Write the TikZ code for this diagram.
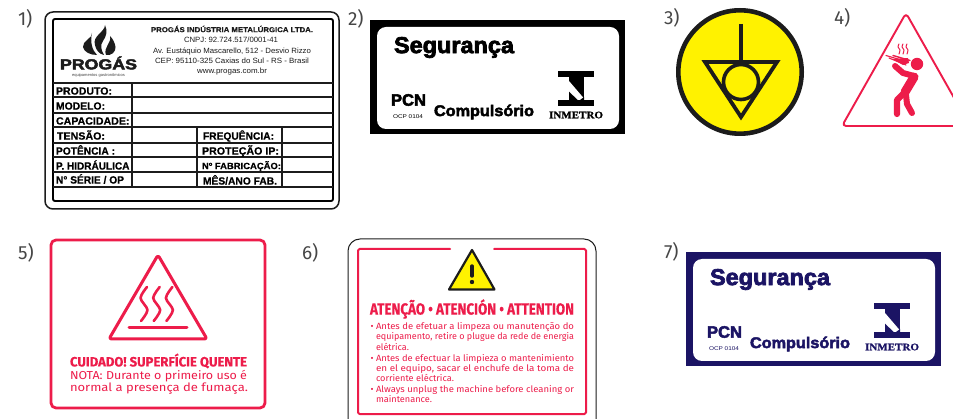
\documentclass[tikz,border=0pt]{standalone}
\usepackage{graphicx}
\usepackage{fontspec}
\setmainfont{Liberation Sans}[BoldFeatures={FakeBold=0.6}]
\newfontfamily\dinfont{Fira Sans}[BoldFeatures={FakeBold=0.3}]
\newfontfamily\numfont{Fira Sans}
\newfontfamily\heavyfont{Liberation Sans}[BoldFeatures={FakeBold=3}]
\newfontfamily\serifb{Liberation Serif}[BoldFeatures={FakeBold=1}]
\definecolor{alertred}{RGB}{237,28,74}
\definecolor{inkblack}{RGB}{28,28,28}
\definecolor{signyellow}{RGB}{255,242,0}
\definecolor{navyink}{RGB}{27,20,100}
\definecolor{numgray}{RGB}{70,70,70}
\newcommand{\fitw}[3]{\resizebox{#1pt}{\height}{\fontsize{#2}{#2}\selectfont #3}}
\newcommand{\tl}[7]{\node[txt,text=#6] (#1) at (#2,#3) {\fitw{#4}{#5}{#7}};}
\newcommand{\numlab}[4]{\node[txt,text=numgray] (#1) at (#2,#3) {\numfont\fontsize{19}{19}\selectfont #4};}
\newcommand{\pcnlabel}[4]{%
  \begin{scope}[shift={(#2,#3)}]
    \fill[#4] (370,20) rectangle (625,134);
    \fill[white,rounded corners=9] (377,27) rectangle (619,129);
    \tl{#1seg}{394}{47.5}{120}{23}{#4}{\heavyfont\bfseries Segurança}
    \tl{#1pcn}{391}{100}{35}{16.5}{#4}{\heavyfont\bfseries PCN}
    \tl{#1ocp}{393}{117}{30}{5.5}{#4}{OCP 0104}
    \tl{#1com}{434}{112}{100}{15.5}{#4}{\heavyfont\bfseries Compulsório}
    \tl{#1inm}{549}{115}{54}{10}{#4}{\serifb\bfseries INMETRO}
    \fill[#4] (558,71) rectangle (594,77);
    \fill[#4] (558,100) rectangle (594,106);
    \fill[#4] (569,77) rectangle (584,100);
    \fill[white] (569,81) -- (584,98.5) -- (584,100) -- (578,100) -- (569,91.5) -- cycle;
    \fill[#4] (584,97) -- (584,100) -- (580,100) -- cycle;
  \end{scope}}
\tikzset{
  x=1pt,y=-1pt,
  txt/.style={inner sep=0pt,outer sep=0pt,anchor=west},
  redline/.style={draw=alertred,line join=round,line cap=round},
  tablerule/.style={draw=inkblack,line width=1.1pt},
}
\begin{document}
\begin{tikzpicture}
\useasboundingbox (0,0) rectangle (953,419);
\begin{scope}
\clip (0,0) rectangle (953,419);
\fill[white] (0,0) rectangle (953,419);
% numbers
\numlab{n1}{18}{19}{1)}
\numlab{n2}{348}{19}{2)}
\numlab{n3}{664}{18}{3)}
\numlab{n4}{834}{18}{4)}
\numlab{n5}{18}{253}{5)}
\numlab{n6}{302}{253}{6)}
\numlab{n7}{664}{252}{7)}
% label 1
\draw[inkblack,line width=1.5pt,rounded corners=8] (45,12) rectangle (339,209);
\draw[black,line width=1.9pt,rounded corners=2] (53,19) rectangle (333,201);
\foreach \yy in {83,97,113,127,143,157,172,187} \draw[tablerule] (53,\yy) -- (333,\yy);
\draw[tablerule] (132,83) -- (132,187);
\draw[tablerule] (197,127) -- (197,187);
\draw[tablerule] (282,127) -- (282,187);
\fill[inkblack] (92,33) .. controls (93,38) and (82,41) .. (83,47) .. controls (84,52) and (90,55) .. (97,55) .. controls (92,50) and (90,42) .. (92,33) -- cycle;
\fill[inkblack] (105,25) .. controls (105,32) and (92,36) .. (95,45) .. controls (96,50) and (99,54) .. (104,55) .. controls (101,50) and (100,45) .. (103,41) .. controls (106,37) and (108,31) .. (105,25) -- cycle;
\fill[inkblack] (110,36) .. controls (112,43) and (103,47) .. (106,55) .. controls (111,56) and (116,52) .. (115.5,47) .. controls (115,43) and (113,39) .. (110,36) -- cycle;
\tl{logo}{60}{63}{77}{14.5}{inkblack}{\heavyfont\bfseries PROGÁS}
\tl{logosub}{72}{75}{53}{4}{numgray}{equipamentos gastronômicos}
\tl{h1}{151}{29}{162}{7.2}{inkblack}{\bfseries PROGÁS INDÚSTRIA METALÚRGICA LTDA.}
\tl{h2}{184}{40}{94}{7.6}{inkblack}{CNPJ: 92.724.517/0001-41}
\tl{h3}{153}{51}{158}{7.6}{inkblack}{Av. Eustáquio Mascarello, 512 - Desvio Rizzo}
\tl{h4}{155}{61}{154}{7.6}{inkblack}{CEP: 95110-325  Caxias do Sul - RS - Brasil}
\tl{h5}{197}{72}{70}{7.6}{inkblack}{www.progas.com.br}
\tl{r1}{56}{91}{56}{10.5}{black}{\bfseries PRODUTO:}
\tl{r2}{56}{106}{49}{10.5}{black}{\bfseries MODELO:}
\tl{r3}{56}{121}{73.5}{10.5}{black}{\bfseries CAPACIDADE:}
\tl{r4}{57}{135}{48}{10.5}{black}{\bfseries TENSÃO:}
\tl{r5}{56}{150}{59}{10.5}{black}{\bfseries POTÊNCIA :}
\tl{r6}{56}{165}{73.5}{10.5}{black}{\bfseries P. HIDRÁULICA}
\tl{r7}{56}{179}{68}{10.5}{black}{\bfseries N° SÉRIE / OP}
\tl{s1}{203}{136}{71}{10.5}{black}{\bfseries FREQUÊNCIA:}
\tl{s2}{202}{151}{77}{10.5}{black}{\bfseries PROTEÇÃO IP:}
\tl{s3}{202}{166}{79}{9}{black}{\bfseries Nº FABRICAÇÃO:}
\tl{s4}{203}{180}{74}{10.5}{black}{\bfseries MÊS/ANO FAB.}
% labels 2 and 7
\pcnlabel{a}{0}{0}{black}
\pcnlabel{b}{316}{232}{navyink}
% sign 3
\draw[inkblack,fill=signyellow,line width=4.6pt] (740,72) circle (61.7);
\draw[inkblack,line width=3.8pt,line join=miter] (705,62) -- (777,62) -- (741,117) -- cycle;
\draw[inkblack,line width=3.3pt] (741,24) -- (741,62);
\draw[inkblack,fill=signyellow,line width=3.6pt] (741,82) circle (17.5);
% sign 4
\draw[redline,line width=1.9pt,rounded corners=4] (906,13) -- (970,126) -- (842,126) -- cycle;
\fill[alertred] (917,64) circle (6.2);
\draw[redline,line width=9pt] (914,77) -- (905,92);
\draw[redline,line width=6pt] (914,76) -- (903,73) -- (895,66);
\draw[redline,line width=6.2pt] (904,93) -- (897,100) -- (897,114);
\draw[redline,line width=6pt] (906,95) -- (907,104) -- (912,113);
\draw[redline,line width=1.1pt] (886,55.5) -- (908,62);
\draw[redline,line width=1.1pt] (889,58) -- (906,65);
\draw[redline,line width=1.4pt] (893,55.5) -- (910,60.5);
\fill[alertred] (892,59) -- (908,58) -- (909,63) -- (903,65) -- cycle;
\foreach \dx in {0,4,8} \draw[redline,line width=1pt,shift={(\dx,0)}] plot[smooth] coordinates {(899,44) (898,47) (900,50) (899,54)};
% sign 5
\draw[redline,line width=2.8pt,rounded corners=5] (51,240) rectangle (265,408);
\draw[redline,line width=3pt,rounded corners=2.5] (158,255) -- (207,339) -- (109,339) -- cycle;
\draw[redline,line width=3pt] (129,328) -- (187,328);
\foreach \dx in {0,12.7,25.4} \draw[redline,line width=2.6pt,shift={(\dx,0)}] plot[smooth] coordinates {(147,287) (140.5,298) (147.5,310) (141,321)};
\tl{c1}{70}{361}{177}{13.5}{alertred}{\dinfont\bfseries CUIDADO! SUPERFÍCIE QUENTE}
\tl{c2}{70}{376.5}{177}{11.5}{alertred}{\dinfont NOTA: Durante o primeiro uso é}
\tl{c3}{70}{388.5}{178}{11.5}{alertred}{\dinfont normal a presença de fumaça.}
% sign 6
\draw[inkblack,line width=1pt,rounded corners=12] (348,430) -- (348,239) -- (596,239) -- (596,430);
\draw[redline,line width=2pt,rounded corners=1.5] (450,249) -- (358,249) -- (358,414) -- (586,414) -- (586,249) -- (494,249);
\draw[inkblack,fill=signyellow,line width=2.2pt,line join=round] (472,250) -- (494.5,289.5) -- (449,289.5) -- cycle;
\draw[inkblack,line width=3.4pt,line cap=round] (472,266) -- (472,276);
\fill[inkblack] (472,282) circle (2.2);
\tl{d0}{370}{309}{204}{16}{alertred}{\dinfont\bfseries ATENÇÃO • ATENCIÓN • ATTENTION}
\tl{db1}{370.5}{327}{3}{9}{alertred}{\dinfont •}
\tl{d1}{376}{327}{198}{9}{alertred}{\dinfont Antes de efetuar a limpeza ou manutenção do}
\tl{d2}{376}{337}{198}{9}{alertred}{\dinfont equipamento, retire o plugue da rede de energia}
\tl{d3}{376}{346.5}{33}{9}{alertred}{\dinfont elétrica.}
\tl{db2}{370.5}{359}{3}{9}{alertred}{\dinfont •}
\tl{d4}{376}{359}{198}{9}{alertred}{\dinfont Antes de efectuar la limpieza o mantenimiento}
\tl{d5}{376}{368.5}{198}{9}{alertred}{\dinfont en el equipo, sacar el enchufe de la toma de}
\tl{d6}{376}{378}{78}{9}{alertred}{\dinfont corriente eléctrica.}
\tl{db3}{370.5}{390}{3}{9}{alertred}{\dinfont •}
\tl{d7}{376}{390}{198}{9}{alertred}{\dinfont Always unplug the machine before cleaning or}
\tl{d8}{376}{399}{56}{9}{alertred}{\dinfont maintenance.}
\end{scope}
\end{tikzpicture}
\end{document}
